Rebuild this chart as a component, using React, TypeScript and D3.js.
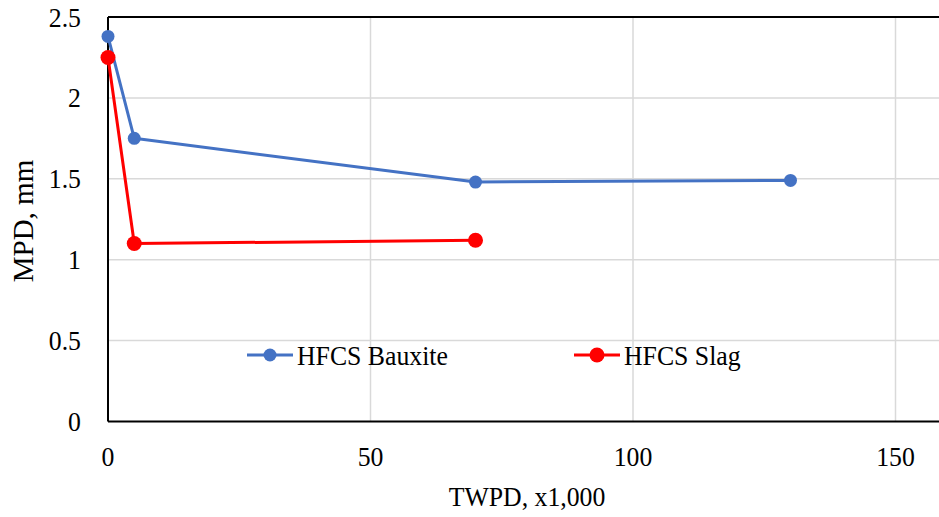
import React from "react";
import * as d3 from "d3";

const bauxiteX = [0, 5, 70, 130];
const bauxiteY = [2.38, 1.75, 1.48, 1.49];
const slagX = [0, 5, 70];
const slagY = [2.25, 1.1, 1.12];
const xTicks = [0, 50, 100, 150];
const yTicks = [0, 0.5, 1, 1.5, 2, 2.5];
const yTickLabels = ["0", "0.5", "1", "1.5", "2", "2.5"];
const seriesNames = ["HFCS Bauxite", "HFCS Slag"];
const xTitle = "TWPD, x1,000";
const yTitle = "MPD, mm";

const W = 939;
const H = 517;
const left = 108;
const right = 948;
const top = 17;
const bottom = 421.5;
const FONT = "'Liberation Serif', 'Times New Roman', serif";
const FS = 28;
const SX = 0.92;

export default function App() {
  const x = d3.scaleLinear().domain([0, 160]).range([left, right]);
  const y = d3.scaleLinear().domain([0, 2.5]).range([bottom, top]);
  const line = d3
    .line<[number, number]>()
    .x((d) => x(d[0]))
    .y((d) => y(d[1]));
  const bData: [number, number][] = bauxiteX.map((v, i) => [v, bauxiteY[i]]);
  const sData: [number, number][] = slagX.map((v, i) => [v, slagY[i]]);
  const blue = "#4472C4";
  const red = "#FF0000";

  const hText = (tx: number, ty: number, s: string, anchor: string, key?: any) => (
    <text
      key={key}
      transform={`translate(${tx},${ty}) scale(${SX},1)`}
      textAnchor={anchor as any}
      fontFamily={FONT}
      fontSize={FS}
      fill="#000"
    >
      {s}
    </text>
  );

  const legend = [
    { name: seriesNames[0], color: blue, x0: 247, r: 6.5, w: 3 },
    { name: seriesNames[1], color: red, x0: 574, r: 7.5, w: 3 },
  ];
  const ly = 355;

  return (
    <svg
      width={W}
      height={H}
      style={{ position: "absolute", left: 0, top: 0, background: "#fff" }}
    >
      <rect x={0} y={0} width={W} height={H} fill="#fff" />
      {yTicks.slice(1, -1).map((t) => (
        <line key={"gy" + t} x1={left} x2={W} y1={y(t)} y2={y(t)} stroke="#d9d9d9" strokeWidth={1.5} />
      ))}
      {xTicks.slice(1).map((t) => (
        <line key={"gx" + t} x1={x(t)} x2={x(t)} y1={top} y2={bottom} stroke="#d9d9d9" strokeWidth={1.5} />
      ))}
      <line x1={left} x2={W} y1={top} y2={top} stroke="#000" strokeWidth={2} />
      <line x1={left} x2={W} y1={bottom} y2={bottom} stroke="#000" strokeWidth={2} />
      <line x1={left} x2={left} y1={top} y2={bottom} stroke="#000" strokeWidth={2} />

      {yTicks.map((t, i) => hText(81, y(t) + 9.5, yTickLabels[i], "end", "yl" + t))}
      {xTicks.map((t) => hText(x(t), 466, String(t), "middle", "xl" + t))}
      {hText(527, 506, xTitle, "middle", "xt")}
      <text
        transform={`translate(33,221) rotate(-90)`}
        textAnchor="middle"
        fontFamily={FONT}
        fontSize={29}
        fill="#000"
      >
        {yTitle}
      </text>

      <path d={line(bData) || ""} fill="none" stroke={blue} strokeWidth={3} strokeLinejoin="round" />
      {bData.map((d, i) => (
        <circle key={"b" + i} cx={x(d[0])} cy={y(d[1])} r={6.5} fill={blue} />
      ))}
      <path d={line(sData) || ""} fill="none" stroke={red} strokeWidth={3} strokeLinejoin="round" />
      {sData.map((d, i) => (
        <circle key={"s" + i} cx={x(d[0])} cy={y(d[1])} r={7.5} fill={red} />
      ))}

      {legend.map((l) => (
        <g key={l.name}>
          <line x1={l.x0} x2={l.x0 + 46} y1={ly} y2={ly} stroke={l.color} strokeWidth={l.w} />
          <circle cx={l.x0 + 23} cy={ly} r={l.r} fill={l.color} />
          {hText(l.x0 + 50, ly + 10, l.name, "start")}
        </g>
      ))}
    </svg>
  );
}
